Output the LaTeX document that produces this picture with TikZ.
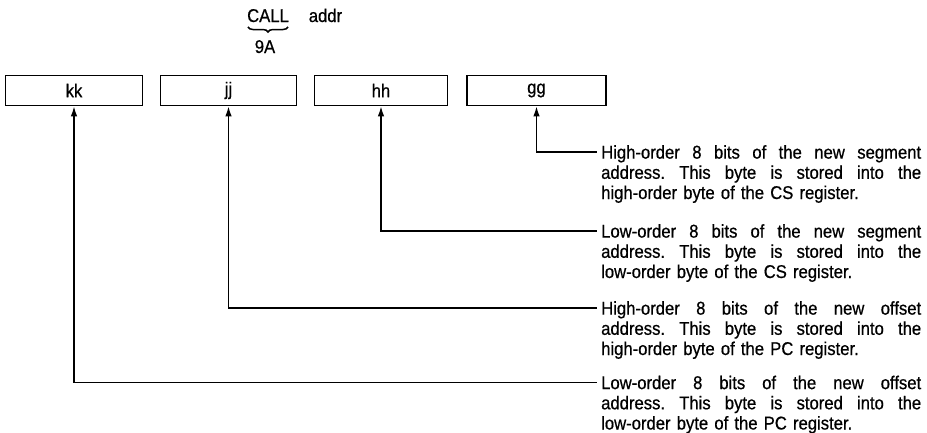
\documentclass[tikz,border=0pt]{standalone}
\usepackage{fontspec}
\setmainfont[FakeStretch=0.9,FakeBold=0.6]{Liberation Sans}
\usetikzlibrary{arrows.meta,decorations.pathreplacing}
\newcommand\jline[1]{\makebox[320pt][s]{\frenchspacing\spaceskip=0pt\xspaceskip=0pt #1}}
\begin{document}
\begin{tikzpicture}[x=1pt,y=-1pt,
  regbox/.style={draw, line width=1.7pt, minimum height=30pt, inner sep=0pt,
    font=\fontsize{18.5}{20}\selectfont},
  para/.style={inner sep=0pt, anchor=north west, text width=320pt, align=left,
    font=\fontsize{18.5}{20.2}\selectfont\frenchspacing},
  conn/.style={line width=1.4pt, {Latex[length=10pt,width=6.5pt]}-},
  toptext/.style={inner sep=0pt, anchor=base, font=\fontsize{18.5}{20}\selectfont}]
\useasboundingbox[fill=white] (0,0) rectangle (927,432);

% top instruction
\node[toptext] (call) at (268,22) {CALL};
\node[toptext] (addr) at (325.5,22) {addr};
\node[toptext] (op) at (265,53) {9A};
\draw[line width=1.5pt, decorate, decoration={brace, mirror, amplitude=5pt}]
  ([xshift=1pt,yshift=-5pt]call.base west) -- ([xshift=-1pt,yshift=-5pt]call.base east);

% byte boxes
\node[regbox, minimum width=137pt] (kk) at (74,90.5) {kk};
\node[regbox, minimum width=136pt] (jj) at (228.5,90.5) {jj};
\node[regbox, minimum width=133pt] (hh) at (381,90.5) {hh};
\node[regbox, minimum width=139pt] (gg) at (536.5,90.5) {gg};

% descriptions
\node[para] (tg) at (601,145) {\jline{High-order 8 bits of the new segment}\\
  \jline{address. This byte is stored into the}\\
  high-order byte of the CS register.};
\node[para] (th) at (601,224) {\jline{Low-order 8 bits of the new segment}\\
  \jline{address. This byte is stored into the}\\
  low-order byte of the CS register.};
\node[para] (tj) at (601,301) {\jline{High-order 8 bits of the new offset}\\
  \jline{address. This byte is stored into the}\\
  high-order byte of the PC register.};
\node[para] (tk) at (601,375.5) {\jline{Low-order 8 bits of the new offset}\\
  \jline{address. This byte is stored into the}\\
  low-order byte of the PC register.};

% connectors
\draw[conn] (gg.south) |- ([xshift=-4pt,yshift=-7pt]tg.north west);
\draw[conn] (hh.south) |- ([xshift=-4pt,yshift=-7pt]th.north west);
\draw[conn] (jj.south) |- ([xshift=-4pt,yshift=-7pt]tj.north west);
\draw[conn] (kk.south) |- ([xshift=-4pt,yshift=-7pt]tk.north west);
\end{tikzpicture}
\end{document}
